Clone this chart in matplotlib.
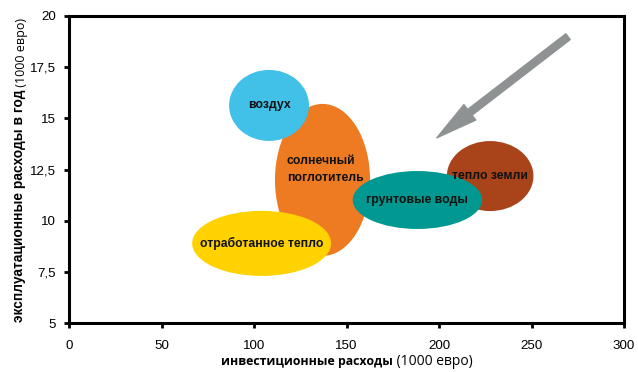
import matplotlib
matplotlib.use('Agg')
import matplotlib.pyplot as plt
from matplotlib.patches import Ellipse, FancyArrowPatch

# heating sources: investment (x) vs yearly running costs (y), both in 1000 EUR
names = ['солнечный\nпоглотитель', 'воздух', 'отработанное тепло',
         'тепло земли', 'грунтовые воды']
invest_center = [137.0, 108.1, 104.1, 227.6, 188.3]
running_center = [11.99, 15.63, 8.89, 12.18, 11.01]
invest_spread = [51.4, 43.2, 75.1, 46.8, 70.0]
running_spread = [7.43, 3.47, 3.18, 3.42, 2.83]
colors = ['#EE7A22', '#41C0E8', '#FFD200', '#A8431A', '#009890']

# trend arrow (from, to) in data units
arrow_from = (269.7, 18.99)
arrow_to = (198.8, 14.05)

xticks = [0, 50, 100, 150, 200, 250, 300]
yticks = [5, 7.5, 10, 12.5, 15, 17.5, 20]
ytick_labels = ['5', '7,5', '10', '12,5', '15', '17,5', '20']

fig = plt.figure(figsize=(6.38, 3.72), dpi=100)
ax = fig.add_axes([0.1082, 0.1317, 0.8700, 0.8253])

for i in range(len(names)):
    e = Ellipse((invest_center[i], running_center[i]), invest_spread[i],
                running_spread[i], facecolor=colors[i], edgecolor='none',
                zorder=2 + i)
    ax.add_patch(e)

# labels (solar one is left aligned and a bit higher)
lbl_font = dict(family='Liberation Sans', weight='bold', fontsize=8.8,
                color='#111111')
ax.text(117.7, 12.5, names[0], ha='left', va='center', zorder=10,
        linespacing=1.45, **lbl_font)
for i in range(1, len(names)):
    ax.text(invest_center[i], running_center[i], names[i], ha='center',
            va='center', zorder=10, **lbl_font)

arr = FancyArrowPatch(arrow_from, arrow_to,
                      arrowstyle='simple,head_length=3.0,head_width=1.4,tail_width=0.52',
                      mutation_scale=10, color='#8E9292', shrinkA=0, shrinkB=0,
                      zorder=9)
ax.add_patch(arr)

ax.set_xlim(0, 300)
ax.set_ylim(5, 20)
ax.set_xticks(xticks)
ax.set_yticks(yticks)
ax.set_yticklabels(ytick_labels)
for lab in ax.get_xticklabels() + ax.get_yticklabels():
    lab.set_family('Liberation Sans')
    lab.set_fontsize(9.6)
ax.tick_params(direction='out', length=3.5, width=2, pad=6)
ax.tick_params(axis='x', pad=9)
for s in ax.spines.values():
    s.set_linewidth(2.2)

# axis titles: bold part + normal unit part
fig.canvas.draw()
r = fig.canvas.get_renderer()

xb = fig.text(0, 0.018, 'инвестиционные расходы', family='Open Sans',
              weight='bold', fontsize=8.9, va='baseline')
xn = fig.text(0, 0.018, ' (1000 евро)', family='Open Sans', fontsize=10.0,
              va='baseline')
wb = xb.get_window_extent(r).width
wn = xn.get_window_extent(r).width
xc = 346.5
xb.set_x((xc - (wb + wn) / 2) / 638)
xn.set_x((xc - (wb + wn) / 2 + wb) / 638)

yb = fig.text(0.030, 0, 'эксплуатационные расходы в год', family='Liberation Sans',
              weight='bold', fontsize=9.9, rotation=90, ha='center',
              va='bottom')
yn = fig.text(0.034, 0, ' (1000 евро)', family='Open Sans', fontsize=9.0,
              rotation=90, ha='center', va='bottom')
hb = yb.get_window_extent(r).height
hn = yn.get_window_extent(r).height
yc = 372 - 170
yb.set_y((yc - (hb + hn) / 2) / 372)
yn.set_y((yc - (hb + hn) / 2 + hb) / 372)

fig.savefig('out.png', dpi=100)
